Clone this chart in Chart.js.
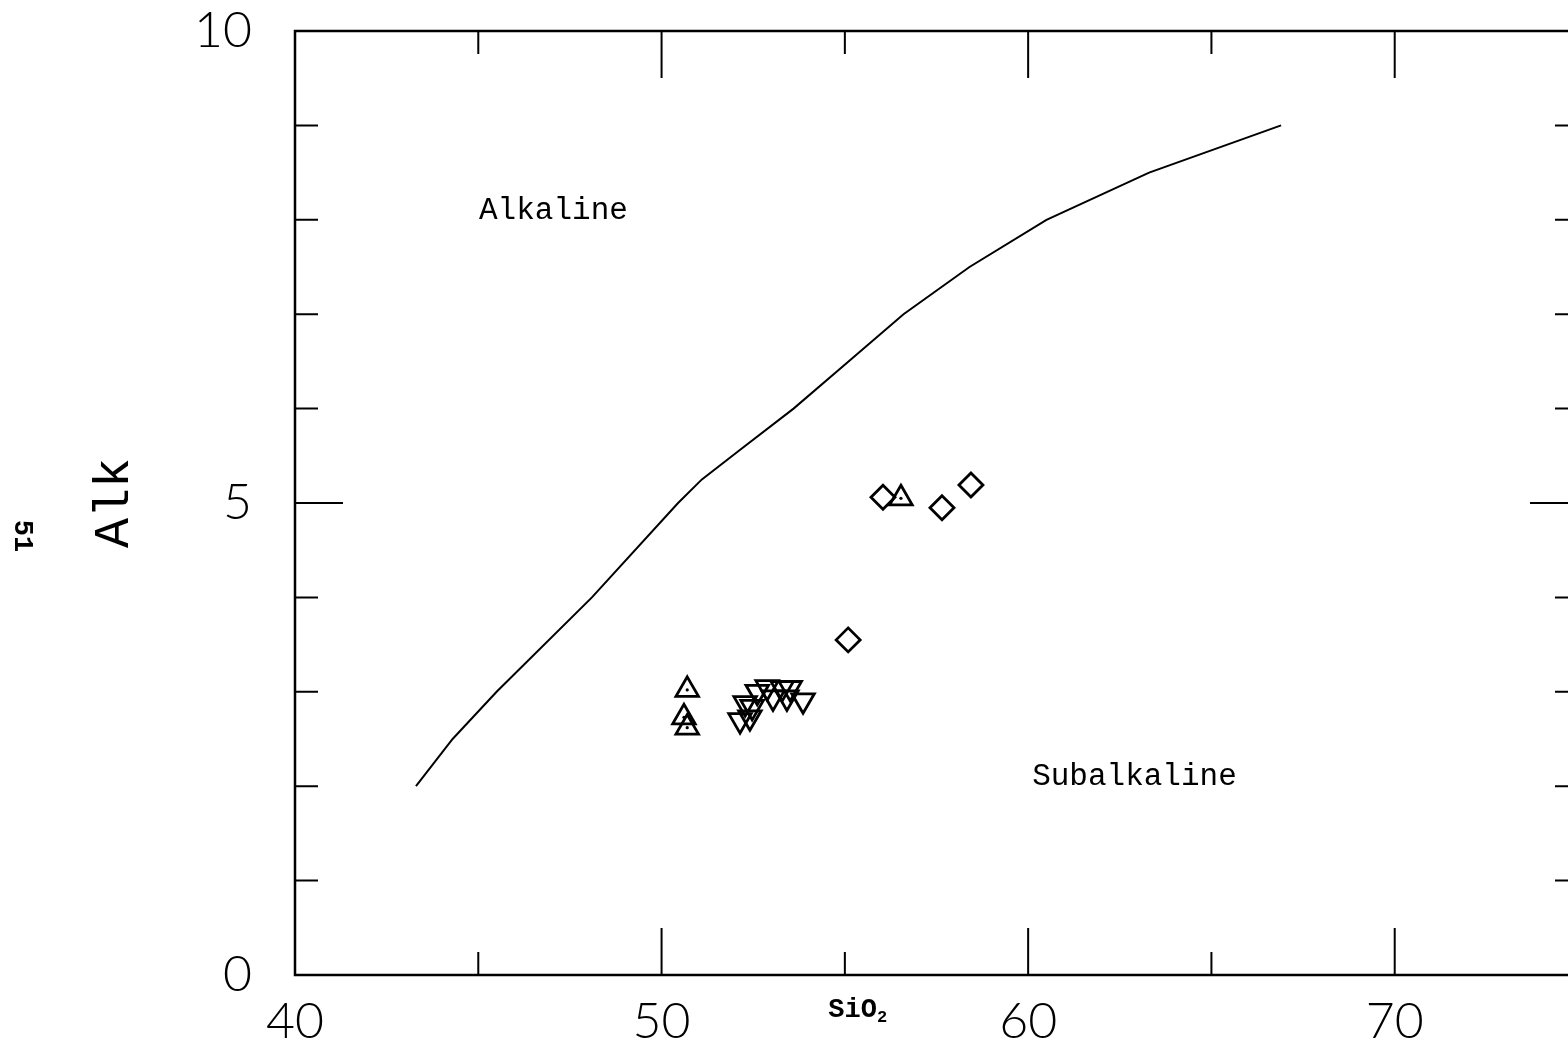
<!DOCTYPE html>
<html>
<head>
<meta charset="utf-8">
<script src="https://cdn.jsdelivr.net/npm/chart.js@4.4.1/dist/chart.umd.min.js"></script>
<style>
  html, body { margin: 0; padding: 0; background: #fff; overflow: hidden; }
  #wrap { position: relative; width: 1600px; height: 1046px; }
</style>
</head>
<body>
<div id="wrap"><canvas id="c"></canvas></div>
<script>
// Alkaline / subalkaline dividing curve (SiO2 wt%, total alkalis wt%)
const curveSiO2 = [43.3, 44.3, 45.5, 48.1, 50.45, 51.1, 52.1, 53.6, 55.1, 56.6, 58.4, 60.5, 63.3, 66.9];
const curveAlk  = [2.0, 2.5, 3.0, 4.0, 5.0, 5.25, 5.55, 6.0, 6.5, 7.0, 7.5, 8.0, 8.5, 9.0];

// Sample groups
const upSiO2 = [50.70, 50.61, 50.70, 56.53];
const upAlk  = [3.02, 2.73, 2.62, 5.05];

const downSiO2 = [52.14, 52.41, 52.28, 52.47, 52.61, 52.88, 53.04, 53.29, 53.42, 53.51, 53.86];
const downAlk  = [2.70, 2.73, 2.88, 2.84, 3.00, 3.05, 2.94, 3.04, 2.94, 3.04, 2.91];

const diaSiO2 = [55.09, 56.04, 57.65, 58.44];
const diaAlk  = [3.55, 5.06, 4.95, 5.19];

// Axis ticks
const xMajorTicks = [40, 50, 60, 70];
const xMinorTicks = [45, 55, 65, 75];
const yMajorTicks = [0, 5, 10];
const yMinorTicks = [1, 2, 3, 4, 6, 7, 8, 9];

const pts = (xs, ys) => xs.map((x, i) => ({ x: x, y: ys[i] }));

const numFont = "300 50px Lato, 'DejaVu Sans', sans-serif";

// Frame, inward tick marks, tick labels and text annotations
const framePlugin = {
  id: 'frame',
  afterDraw(chart) {
    const { ctx, chartArea: a, scales } = chart;
    const xs = scales.x, ys = scales.y;
    ctx.save();
    ctx.strokeStyle = '#000';
    ctx.lineWidth = 2.5;
    ctx.lineCap = 'butt';
    ctx.strokeRect(a.left, a.top, a.right - a.left, a.bottom - a.top);

    ctx.beginPath();
    const xt = (v, len) => {
      const p = xs.getPixelForValue(v);
      ctx.moveTo(p, a.bottom); ctx.lineTo(p, a.bottom - len);
      ctx.moveTo(p, a.top); ctx.lineTo(p, a.top + len);
    };
    const yt = (v, len) => {
      const p = ys.getPixelForValue(v);
      ctx.moveTo(a.left, p); ctx.lineTo(a.left + len, p);
      ctx.moveTo(a.right, p); ctx.lineTo(a.right - len, p);
    };
    xMajorTicks.forEach(v => xt(v, 47));
    xMinorTicks.forEach(v => xt(v, 23));
    yMajorTicks.forEach(v => yt(v, 48));
    yMinorTicks.forEach(v => yt(v, 23));
    ctx.lineWidth = 2;
    ctx.stroke();

    ctx.fillStyle = '#000';
    // Tick labels
    ctx.font = numFont;
    ctx.textAlign = 'center';
    ctx.textBaseline = 'middle';
    xMajorTicks.forEach(v => ctx.fillText(String(v), xs.getPixelForValue(v), a.bottom + 47));
    ctx.textAlign = 'right';
    yMajorTicks.forEach(v => ctx.fillText(String(v), a.left - 43, ys.getPixelForValue(v)));

    ctx.textAlign = 'center';
    ctx.font = "31px 'Liberation Mono', 'DejaVu Sans Mono', monospace";
    ctx.fillText('Alkaline', xs.getPixelForValue(47.05), ys.getPixelForValue(8.1));
    ctx.fillText('Subalkaline', xs.getPixelForValue(62.9), ys.getPixelForValue(2.1));

    ctx.font = "bold 27px 'Liberation Mono', 'Courier New', monospace";
    ctx.textAlign = 'left';
    ctx.textBaseline = 'alphabetic';
    const sx = xs.getPixelForValue(54.55), sy = a.bottom + 42;
    ctx.fillText('SiO', sx, sy);
    const w = ctx.measureText('SiO').width;
    ctx.font = "bold 17px 'Liberation Mono', 'Courier New', monospace";
    ctx.fillText('2', sx + w, sy + 5);

    // Rotated axis title
    ctx.save();
    ctx.translate(115, ys.getPixelForValue(5.0));
    ctx.rotate(-Math.PI / 2);
    ctx.textAlign = 'center';
    ctx.textBaseline = 'middle';
    ctx.font = "50px 'Liberation Mono', 'DejaVu Sans Mono', monospace";
    ctx.fillText('Alk', 0, 0);
    ctx.restore();

    // Page number
    ctx.save();
    ctx.translate(22, 536);
    ctx.rotate(Math.PI / 2);
    ctx.textAlign = 'center';
    ctx.textBaseline = 'middle';
    ctx.font = "bold 27px 'Liberation Mono', 'DejaVu Sans Mono', monospace";
    ctx.fillText('51', 0, 0);
    ctx.restore();

    ctx.restore();
  }
};

new Chart(document.getElementById('c'), {
  type: 'scatter',
  data: {
    datasets: [
      {
        type: 'line',
        data: pts(curveSiO2, curveAlk),
        borderColor: '#000',
        borderWidth: 2,
        pointRadius: 0,
        fill: false,
        tension: 0
      },
      {
        data: pts(upSiO2, upAlk),
        pointStyle: 'triangle',
        pointRadius: 13,
        borderColor: '#000',
        backgroundColor: 'rgba(0,0,0,0)',
        borderWidth: 2.8
      },
      {
        data: pts(upSiO2, upAlk),
        pointStyle: 'circle',
        pointRadius: 1.6,
        borderWidth: 0,
        backgroundColor: '#000'
      },
      {
        data: pts(downSiO2, downAlk),
        pointStyle: 'triangle',
        rotation: 180,
        pointRadius: 13,
        borderColor: '#000',
        backgroundColor: 'rgba(0,0,0,0)',
        borderWidth: 2.8
      },
      {
        data: pts(diaSiO2, diaAlk),
        pointStyle: 'rectRot',
        pointRadius: 12,
        borderColor: '#000',
        backgroundColor: 'rgba(0,0,0,0)',
        borderWidth: 2.8
      }
    ]
  },
  options: {
    responsive: true,
    maintainAspectRatio: false,
    animation: false,
    layout: { padding: { top: 31, right: 22, left: 0, bottom: 0 } },
    plugins: { legend: { display: false }, tooltip: { enabled: false } },
    scales: {
      x: {
        type: 'linear',
        min: 40, max: 75,
        grid: { display: false },
        border: { display: false },
        ticks: { display: false, stepSize: 5 },
        afterFit(scale) { scale.height = 71; }
      },
      y: {
        type: 'linear',
        min: 0, max: 10,
        grid: { display: false },
        border: { display: false },
        ticks: { display: false, stepSize: 1 },
        afterFit(scale) { scale.width = 295; }
      }
    }
  },
  plugins: [framePlugin]
});
</script>
</body>
</html>
